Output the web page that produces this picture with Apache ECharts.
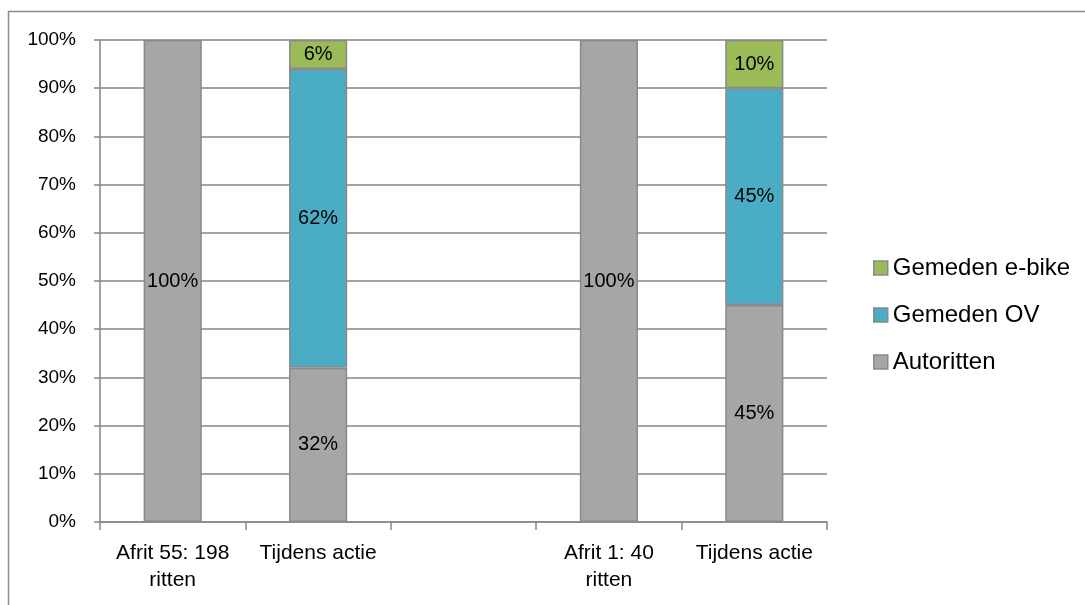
<!DOCTYPE html>
<html>
<head>
<meta charset="utf-8">
<script src="https://cdn.jsdelivr.net/npm/echarts@6/dist/echarts.min.js"></script>
<style>
html,body{margin:0;padding:0;background:#fff;}
#c{width:1085px;height:605px;}
</style>
</head>
<body>
<div id="c"></div>
<script>
const categories = ['Afrit 55: 198\nritten', 'Tijdens actie', '', 'Afrit 1: 40\nritten', 'Tijdens actie'];
const autoritten = [100, 32, null, 100, 45];
const gemedenOV = [null, 62, null, null, 45];
const gemedenEbike = [null, 6, null, null, 10];
const yTicks = [0, 10, 20, 30, 40, 50, 60, 70, 80, 90, 100];

const FONT = '"Liberation Sans", Arial, sans-serif';
const chart = echarts.init(document.getElementById('c'), null, {renderer: 'canvas'});

function seg(name, data, color) {
  return {
    name: name,
    type: 'bar',
    stack: 'total',
    barWidth: '40%',
    data: data,
    itemStyle: {color: color, borderColor: '#8a8a8a', borderWidth: 1.5},
    label: {
      show: true,
      position: 'inside',
      color: '#000',
      fontFamily: FONT,
      fontSize: 20,
      formatter: p => (p.value == null ? '' : p.value + '%')
    },
    emphasis: {disabled: true}
  };
}

chart.setOption({
  animation: false,
  backgroundColor: '#fff',
  graphic: [{
    type: 'rect',
    shape: {x: 8.5, y: 11.5, width: 1200, height: 700},
    style: {fill: 'none', stroke: '#8c8c8c', lineWidth: 1.5},
    silent: true
  }],
  grid: {left: 100, right: 258, top: 40, bottom: 83, containLabel: false},
  legend: {
    orient: 'vertical',
    left: 868,
    top: 251,
    itemGap: 23,
    itemWidth: 14,
    itemHeight: 14,
    icon: 'rect',
    data: ['Gemeden e-bike', 'Gemeden OV', 'Autoritten'],
    textStyle: {fontFamily: FONT, fontSize: 24, color: '#000', padding: [0, 0, 0, 0]},
    itemStyle: {borderColor: '#8a8a8a', borderWidth: 1.5}
  },
  xAxis: {
    type: 'category',
    data: categories,
    boundaryGap: true,
    axisLine: {show: true, lineStyle: {color: '#868686', width: 1.5}},
    axisTick: {show: true, length: 8, lineStyle: {color: '#868686', width: 1.5}, alignWithLabel: false},
    axisLabel: {fontFamily: FONT, fontSize: 21, color: '#000', margin: 18, lineHeight: 27, interval: 0}
  },
  yAxis: {
    type: 'value',
    min: yTicks[0],
    max: yTicks[yTicks.length - 1],
    interval: 10,
    axisLine: {show: true, lineStyle: {color: '#868686', width: 1.5}},
    axisTick: {show: true, length: 6, lineStyle: {color: '#868686', width: 1.5}},
    axisLabel: {fontFamily: FONT, fontSize: 19, color: '#000', margin: 24, formatter: '{value}%'},
    splitLine: {show: true, lineStyle: {color: '#868686', width: 1.5}}
  },
  series: [
    seg('Autoritten', autoritten, '#a6a6a6'),
    seg('Gemeden OV', gemedenOV, '#4bacc6'),
    seg('Gemeden e-bike', gemedenEbike, '#9bbb59')
  ]
});
</script>
</body>
</html>
